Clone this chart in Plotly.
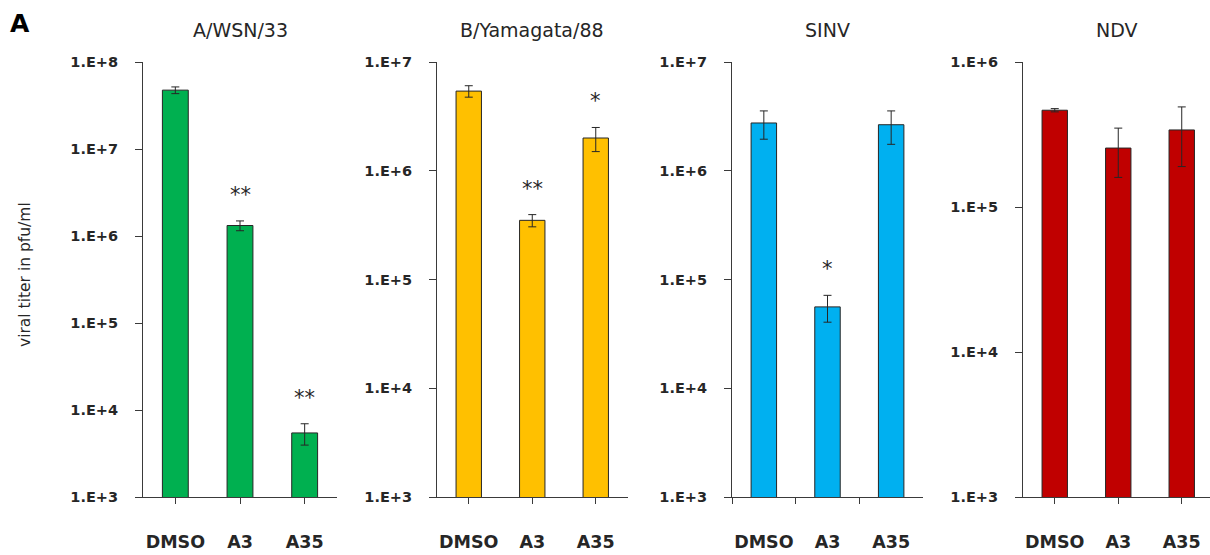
import numpy as np
import plotly.graph_objects as go

# Treatments (x categories) shared by every panel
treatments = ["DMSO", "A3", "A35"]

# Virus panels, left to right
viruses = ["A/WSN/33", "B/Yamagata/88", "SINV", "NDV"]

# Mean viral titer (pfu/ml) and standard deviation per treatment
wsn_titer = [4.75e7, 1.32e6, 5.45e3]
wsn_sd = [4.2e6, 1.7e5, 1.5e3]

yamagata_titer = [5.4e6, 3.5e5, 2.0e6]
yamagata_sd = [6.5e5, 4.5e4, 5.0e5]

sinv_titer = [2.75e6, 5.6e4, 2.65e6]
sinv_sd = [8.0e5, 1.55e4, 9.0e5]

ndv_titer = [4.65e5, 2.55e5, 3.4e5]
ndv_sd = [1.2e4, 9.5e4, 1.5e5]

# Significance marks above each bar
wsn_sig = ["", "**", "**"]
yamagata_sig = ["", "**", "*"]
sinv_sig = ["", "*", ""]
ndv_sig = ["", "", ""]

# Upper decade of each log axis
top_decade = [8, 7, 7, 6]
bottom_decade = 3

bar_colors = ["#00B050", "#FFC000", "#00B0F0", "#C00000"]

titers = [wsn_titer, yamagata_titer, sinv_titer, ndv_titer]
sds = [wsn_sd, yamagata_sd, sinv_sd, ndv_sd]
sigs = [wsn_sig, yamagata_sig, sinv_sig, ndv_sig]

W, H = 1210, 555
ink = "#262626"
axis_col = "#3a3a3a"
font_family = "DejaVu Sans"

# Panel placement in pixels: (left edge of axis, axis length, category span)
panel_px = [(143, 194.0, 3.0), (437, 190.5, 3.0), (732, 191.0, 3.0), (1023, 187.0, 2.945)]
plot_top_px, plot_bottom_px = 62, 497

fig = go.Figure()
annotations = []

for i, (name, vals, errs, marks, color) in enumerate(
    zip(viruses, titers, sds, sigs, bar_colors)
):
    n = i + 1
    xa = "x" if n == 1 else f"x{n}"
    ya = "y" if n == 1 else f"y{n}"

    fig.add_trace(
        go.Bar(
            x=treatments,
            y=vals,
            width=0.4,
            marker=dict(color=color, line=dict(color=ink, width=1)),
            error_y=dict(
                type="data", array=errs, visible=True,
                color=ink, thickness=1, width=4,
            ),
            xaxis=xa,
            yaxis=ya,
            showlegend=False,
            hoverinfo="x+y",
        )
    )

    left, length, span = panel_px[i]
    x_domain = [left / W, min(1.0, (left + length) / W)]
    y_domain = [(H - plot_bottom_px) / H, (H - plot_top_px) / H]

    decades = list(range(bottom_decade, top_decade[i] + 1))
    tickvals = [10.0 ** d for d in decades]
    ticktext = [f"1.E+{d}" for d in decades]

    xkey = "xaxis" if n == 1 else f"xaxis{n}"
    ykey = "yaxis" if n == 1 else f"yaxis{n}"

    boundary_ticks = name == "SINV"
    xaxis = dict(
        domain=x_domain,
        anchor=ya,
        type="category",
        categoryorder="array",
        categoryarray=treatments,
        range=[-0.5, -0.5 + span],
        automargin=False,
        showline=True,
        linecolor=axis_col,
        linewidth=1,
        showgrid=False,
        zeroline=False,
        ticks="outside",
        ticklen=6,
        tickwidth=1,
        tickcolor=axis_col,
        tickangle=0,
        ticklabelstandoff=29 if boundary_ticks else 23,
        tickfont=dict(family=font_family, size=17.5, color=ink, weight="bold"),
        fixedrange=True,
    )
    if boundary_ticks:
        xaxis["tickson"] = "boundaries"
    fig.update_layout({xkey: xaxis})

    fig.update_layout({
        ykey: dict(
            domain=y_domain,
            anchor=xa,
            type="log",
            range=[bottom_decade, top_decade[i]],
            tickvals=tickvals,
            ticktext=ticktext,
            automargin=False,
            showline=True,
            linecolor=axis_col,
            linewidth=1,
            showgrid=False,
            zeroline=False,
            ticks="outside",
            ticklen=7,
            tickwidth=1,
            tickcolor=axis_col,
            ticklabelstandoff=14,
            tickfont=dict(family=font_family, size=14.5, color=ink, weight="bold"),
            fixedrange=True,
        )
    })

    # Panel title, centred over the full category span
    annotations.append(dict(
        text=name,
        xref=f"{xa} domain",
        x=0.5 * (length / W) / (x_domain[1] - x_domain[0]),
        yref="paper", y=(H - 30) / H,
        xanchor="center", yanchor="middle",
        showarrow=False,
        font=dict(family=font_family, size=19, color=ink),
    ))

    # Significance asterisks just above each error bar
    for cat, v, e, m in zip(treatments, vals, errs, marks):
        if not m:
            continue
        annotations.append(dict(
            text=m,
            xref=xa, x=cat,
            yref=ya, y=float(np.log10(v + e)),
            xanchor="center", yanchor="middle",
            yshift=26,
            showarrow=False,
            font=dict(family=font_family, size=21, color=ink),
        ))

# Shared y-axis title
annotations.append(dict(
    text="viral titer in pfu/ml",
    xref="paper", x=25 / W,
    yref="paper", y=(H - 275) / H,
    xanchor="center", yanchor="middle",
    textangle=-90,
    showarrow=False,
    font=dict(family=font_family, size=15.5, color=ink),
))

# Figure panel letter
annotations.append(dict(
    text="A",
    xref="paper", x=20 / W,
    yref="paper", y=(H - 23) / H,
    xanchor="center", yanchor="middle",
    showarrow=False,
    font=dict(family=font_family, size=25, color="#000000", weight="bold"),
))

fig.update_layout(
    template="none",
    width=W,
    height=H,
    margin=dict(l=0, r=0, t=0, b=0, autoexpand=False),
    paper_bgcolor="white",
    plot_bgcolor="white",
    annotations=annotations,
    bargap=0.6,
)

fig.write_html("out.html")
